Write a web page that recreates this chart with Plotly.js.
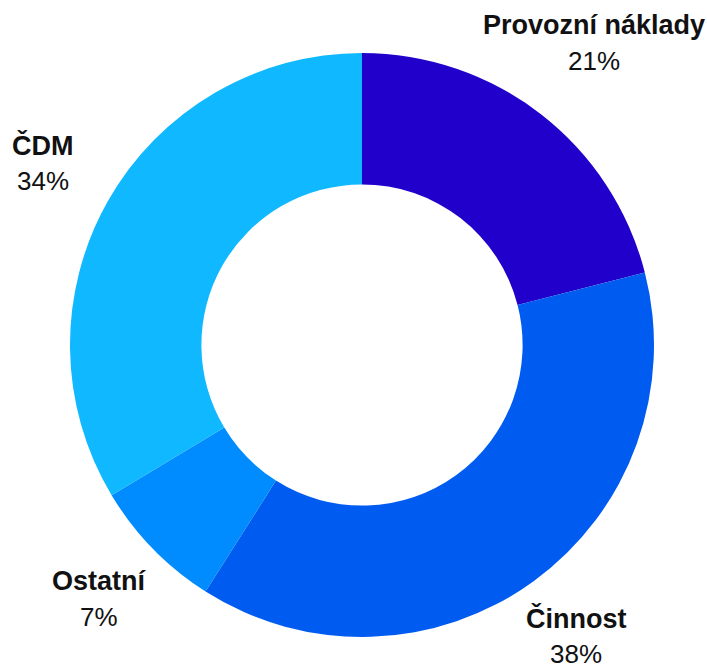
<!DOCTYPE html>
<html>
<head>
<meta charset="utf-8">
<script src="https://cdn.plot.ly/plotly-3.0.1.min.js"></script>
<style>html,body{margin:0;padding:0;background:#fff;}#chart{width:707px;height:664px;}</style>
</head>
<body>
<div id="chart"></div>
<script>
const categories = ["Provozní náklady", "Činnost", "Ostatní", "ČDM"];
const values = [21.0, 38.0, 7.4, 33.6];
const colors = ["#2200CC", "#005CF0", "#008CFF", "#10B8FF"];

// label anchor positions in pixels (layout only)
const labelPos = [
  {x: 594, y: 25},
  {x: 576, y: 618},
  {x: 99, y: 581},
  {x: 43, y: 145}
];

const W = 707, H = 664;
const cx = 362, cy = 345, R = 292;
const total = values.reduce((a, b) => a + b, 0);

const annotations = [];
categories.forEach((c, i) => {
  const pct = Math.round(values[i] / total * 100) + "%";
  const p = labelPos[i];
  annotations.push({
    xref: "paper", yref: "paper", x: p.x / W, y: 1 - p.y / H,
    xanchor: "center", yanchor: "middle", showarrow: false,
    text: "<b>" + c + "</b>",
    font: {family: "Liberation Sans, Arial, sans-serif", size: 27, color: "#111111"}
  });
  annotations.push({
    xref: "paper", yref: "paper", x: p.x / W, y: 1 - (p.y + 36) / H,
    xanchor: "center", yanchor: "middle", showarrow: false,
    text: pct,
    font: {family: "Liberation Sans, Arial, sans-serif", size: 26, color: "#111111"}
  });
});

const data = [{
  type: "pie",
  labels: categories,
  values: values,
  marker: {colors: colors, line: {width: 0}},
  hole: 0.55,
  sort: false,
  direction: "clockwise",
  rotation: 0,
  textinfo: "none",
  hoverinfo: "skip",
  showlegend: false,
  domain: {x: [(cx - R) / W, (cx + R) / W], y: [1 - (cy + R) / H, 1 - (cy - R) / H]}
}];

const layout = {
  width: W, height: H,
  margin: {l: 0, r: 0, t: 0, b: 0},
  paper_bgcolor: "#ffffff",
  plot_bgcolor: "#ffffff",
  showlegend: false,
  annotations: annotations
};

Plotly.newPlot("chart", data, layout, {displayModeBar: false, staticPlot: true});
</script>
</body>
</html>
